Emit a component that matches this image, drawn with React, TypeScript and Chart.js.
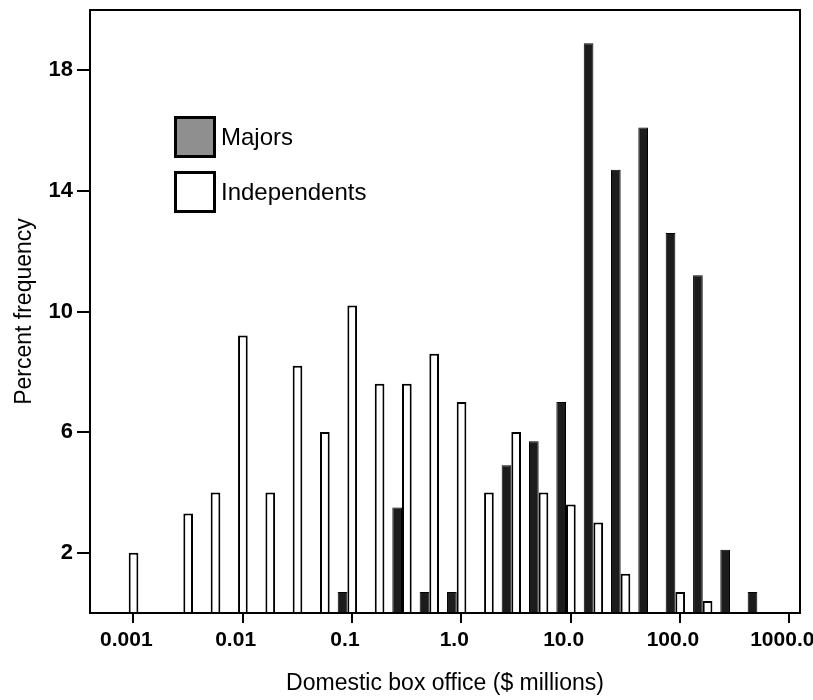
import React, { useEffect, useRef } from "react";
import { Chart, registerables } from "chart.js";

Chart.register(...registerables);

// ---- data ----
const binCenters = [
  0.001, 0.00178, 0.00316, 0.00562, 0.01, 0.0178, 0.0316, 0.0562, 0.1, 0.178,
  0.316, 0.562, 1.0, 1.78, 3.16, 5.62, 10, 17.8, 31.6, 56.2, 100, 178, 316, 562, 1000,
];
const majors = [
  0, 0, 0, 0, 0, 0, 0, 0, 0.7, 0, 3.5, 0.7, 0.7, 0, 4.9, 5.7, 7.0, 18.9, 14.7, 16.1,
  12.6, 11.2, 2.1, 0.7, 0,
];
const independents = [
  2.0, 0, 3.3, 4.0, 9.2, 4.0, 8.2, 6.0, 10.2, 7.6, 7.6, 8.6, 7.0, 4.0, 6.0, 4.0, 3.6,
  3.0, 1.3, 0, 0.7, 0.4, 0, 0, 0,
];
const seriesLabels = ["Majors", "Independents"];
const xTickValues = [0.001, 0.01, 0.1, 1, 10, 100, 1000];
const xTickLabels = ["0.001", "0.01", "0.1", "1.0", "10.0", "100.0", "1000.0"];
const yTickValues = [2, 6, 10, 14, 18];
const xTitle = "Domestic box office ($ millions)";
const yTitle = "Percent frequency";

// ---- layout / style constants ----
const FONT = '"Liberation Sans", Arial, Helvetica, sans-serif';
const X_MIN_LOG = -3.396;
const X_MAX_LOG = 3.098;
const BAR_SHIFT_LOG = 0.042;
const X_TICK_LEN = 10;
const legendFills = ["#8f8f8f", "#ffffff"];

const framePlugin = {
  id: "frame",
  afterDraw(chart: any) {
    const { ctx, chartArea } = chart;
    ctx.save();
    ctx.strokeStyle = "#000";
    ctx.lineWidth = 2;
    ctx.strokeRect(
      chartArea.left,
      chartArea.top,
      chartArea.right - chartArea.left,
      chartArea.bottom - chartArea.top
    );
    // tick marks of the bottom axis, placed by the axis itself
    const xs = chart.scales.x;
    ctx.beginPath();
    xs.ticks.forEach((t: any) => {
      const px = Math.round(xs.getPixelForValue(t.value));
      ctx.moveTo(px, chartArea.bottom);
      ctx.lineTo(px, chartArea.bottom + X_TICK_LEN);
    });
    ctx.stroke();
    ctx.restore();
  },
};

const legendPlugin = {
  id: "boxLegend",
  afterDraw(chart: any) {
    const { ctx, chartArea } = chart;
    const size = 42;
    const x0 = chartArea.left + 84;
    const y0 = chartArea.top + 106;
    ctx.save();
    chart.data.datasets.forEach((ds: any, i: number) => {
      const y = y0 + i * 55;
      ctx.fillStyle = legendFills[i];
      ctx.fillRect(x0, y, size, size);
      ctx.lineWidth = 3;
      ctx.strokeStyle = "#000";
      ctx.strokeRect(x0 + 1.5, y + 1.5, size - 3, size - 3);
      ctx.fillStyle = "#000";
      ctx.font = `24px ${FONT}`;
      ctx.textAlign = "left";
      ctx.textBaseline = "middle";
      ctx.fillText(ds.label, x0 + size + 5, y + size / 2 + 1);
    });
    ctx.restore();
  },
};

export default function App() {
  const canvasRef = useRef<HTMLCanvasElement | null>(null);

  useEffect(() => {
    if (!canvasRef.current) return;
    const chart = new Chart(canvasRef.current, {
      type: "bar",
      data: {
        datasets: [
          {
            label: seriesLabels[0],
            data: binCenters.map((b, i) => ({ x: b, y: majors[i] })),
            xAxisID: "xb",
            backgroundColor: "#1c1c1c",
            borderColor: "#000",
            borderWidth: 1,
            categoryPercentage: 0.71,
            barPercentage: 1.0,
          },
          {
            label: seriesLabels[1],
            data: binCenters.map((b, i) => ({ x: b, y: independents[i] })),
            xAxisID: "xb",
            backgroundColor: "#ffffff",
            borderColor: "#000",
            borderWidth: 2,
            categoryPercentage: 0.71,
            barPercentage: 1.0,
          },
        ],
      } as any,
      options: {
        animation: false,
        responsive: false,
        layout: { padding: { left: 0, right: 13, top: 10, bottom: 0 } },
        plugins: {
          legend: { display: false },
          tooltip: { enabled: false },
        },
        scales: {
          xb: {
            type: "logarithmic",
            display: false,
            offset: false,
            grid: { offset: false },
            min: Math.pow(10, X_MIN_LOG + BAR_SHIFT_LOG),
            max: Math.pow(10, X_MAX_LOG + BAR_SHIFT_LOG),
            afterBuildTicks: (s: any) => {
              s.ticks = binCenters.map((v) => ({ value: v }));
            },
          },
          x: {
            type: "logarithmic",
            position: "bottom",
            offset: false,
            min: Math.pow(10, X_MIN_LOG),
            max: Math.pow(10, X_MAX_LOG),
            afterBuildTicks: (s: any) => {
              s.ticks = xTickValues.map((v) => ({ value: v }));
            },
            ticks: {
              autoSkip: false,
              maxRotation: 0,
              minRotation: 0,
              color: "#000",
              padding: 5,
              labelOffset: -7,
              font: { family: FONT, size: 21, weight: "bold" },
              callback: (_v: any, i: number) => xTickLabels[i],
            },
            grid: {
              offset: false,
              display: true,
              drawOnChartArea: false,
              drawTicks: true,
              tickLength: X_TICK_LEN,
              tickColor: "#000",
              tickWidth: 2,
              color: "#000",
              lineWidth: 2,
            },
            border: { display: true, color: "#000", width: 2 },
            title: {
              display: true,
              text: xTitle,
              color: "#000",
              font: { family: FONT, size: 23 },
              padding: { top: 4, bottom: 3 },
            },
            afterFit: (s: any) => {
              s.height = 87;
              s.paddingLeft = 0;
              s.paddingRight = 0;
            },
          },
          y: {
            type: "linear",
            min: 0,
            max: 20,
            afterBuildTicks: (s: any) => {
              s.ticks = yTickValues.map((v) => ({ value: v }));
            },
            ticks: {
              color: "#000",
              padding: 4,
              font: { family: FONT, size: 22, weight: "bold" },
            },
            grid: {
              drawOnChartArea: false,
              drawTicks: true,
              tickLength: 13,
              tickColor: "#000",
              tickWidth: 2,
              color: "#000",
              lineWidth: 2,
            },
            border: { display: true, color: "#000", width: 2 },
            title: {
              display: true,
              text: yTitle,
              color: "#000",
              font: { family: FONT, size: 23 },
              padding: { top: 11, bottom: 0 },
            },
            afterFit: (s: any) => {
              s.width = 90;
              s.paddingTop = 0;
              s.paddingBottom = 0;
            },
          },
        },
      } as any,
      plugins: [framePlugin, legendPlugin],
    });
    return () => chart.destroy();
  }, []);

  return (
    <div style={{ position: "absolute", left: 0, top: 0, width: 813, height: 700, background: "#fff" }}>
      <canvas ref={canvasRef} width={813} height={700} />
    </div>
  );
}
